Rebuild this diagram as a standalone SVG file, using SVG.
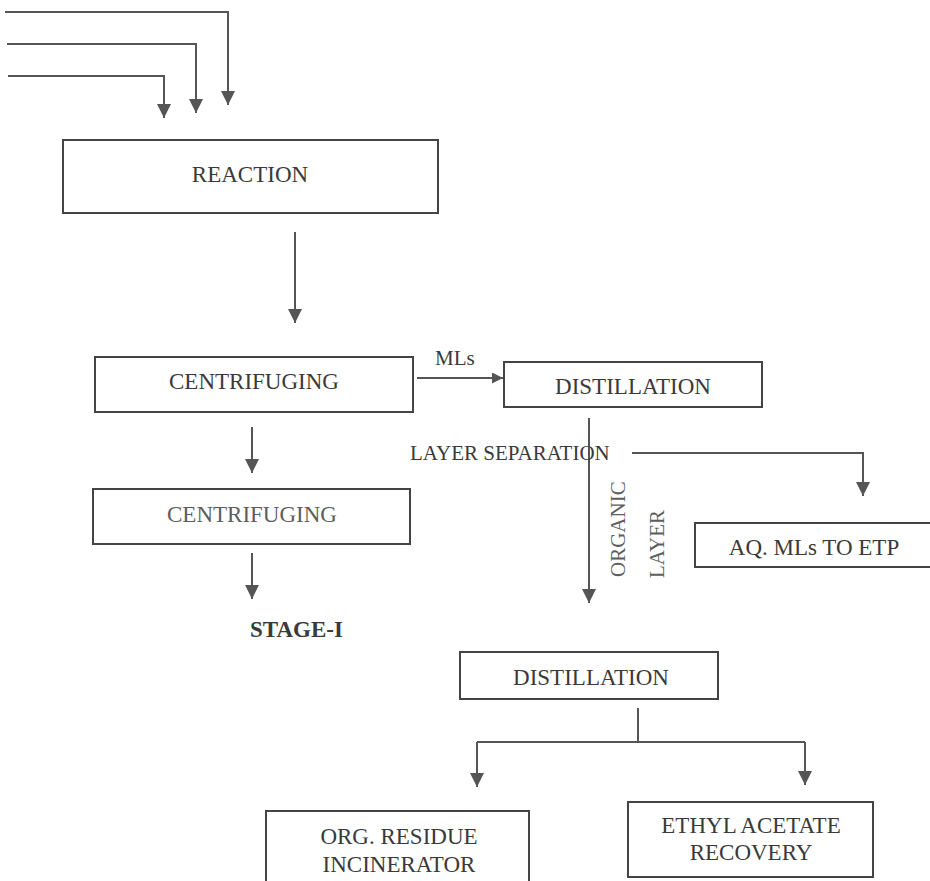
<svg xmlns="http://www.w3.org/2000/svg" width="930" height="881" viewBox="0 0 930 881" font-family="Liberation Serif, DejaVu Serif, serif">
  <style>
    .box rect { fill: #ffffff; stroke: #444444; stroke-width: 2; }
    .lbl { font-family: 'Liberation Serif', 'DejaVu Serif', serif; font-size: 23px; fill: #3a3a3a; }
    .mid { text-anchor: middle; }
    .small { font-size: 21px; }
    .faint { fill: #5e5e5e; }
    .bold { font-weight: bold; }
    .wire { fill: none; stroke: #555555; stroke-width: 2; }
  </style>
  <defs>
    <marker id="head" viewBox="0 0 10 10" refX="10" refY="5" markerUnits="userSpaceOnUse" markerWidth="15" markerHeight="14" orient="auto">
      <path d="M0,0 L10,5 L0,10 z" fill="#555555"/>
    </marker>
    <marker id="headSmall" viewBox="0 0 10 10" refX="10" refY="5" markerUnits="userSpaceOnUse" markerWidth="12" markerHeight="11" orient="auto">
      <path d="M0,0 L10,5 L0,10 z" fill="#555555"/>
    </marker>
  </defs>
  <rect width="930" height="881" fill="#ffffff"/>

  <!-- flow lines -->
  <g id="connectors" class="wire">
    <path d="M5,12 H228 V105" marker-end="url(#head)"/>
    <path d="M7,44 H196 V113" marker-end="url(#head)"/>
    <path d="M8,76 H164 V118" marker-end="url(#head)"/>
    <path d="M295,232 V323" marker-end="url(#head)"/>
    <path d="M417,378 H503" marker-end="url(#headSmall)"/>
    <path d="M252,427 V473" marker-end="url(#head)"/>
    <path d="M252,553 V599" marker-end="url(#head)"/>
    <path d="M589,418 V603" marker-end="url(#head)"/>
    <path d="M632,453 H863 V496" marker-end="url(#head)"/>
    <path d="M638,708 V742"/>
    <path d="M477,742 H805"/>
    <path d="M477,742 V787" marker-end="url(#head)"/>
    <path d="M805,742 V785" marker-end="url(#head)"/>
  </g>

  <!-- flow labels -->
  <g id="labels" class="lbl small">
    <text x="435" y="365">MLs</text>
    <text x="410" y="460">LAYER SEPARATION</text>
    <text transform="translate(625,577) rotate(-90)" class="faint">ORGANIC</text>
    <text transform="translate(664,578) rotate(-90)" class="faint">LAYER</text>
  </g>

  <g id="reaction" class="box">
    <rect x="63" y="140" width="375" height="73"/>
    <text class="lbl mid" x="250" y="182">REACTION</text>
  </g>

  <g id="centrifuging1" class="box">
    <rect x="95" y="357" width="318" height="55"/>
    <text class="lbl mid" x="254" y="389">CENTRIFUGING</text>
  </g>

  <g id="distillation1" class="box">
    <rect x="504" y="362" width="258" height="45"/>
    <text class="lbl mid" x="633" y="394">DISTILLATION</text>
  </g>

  <g id="centrifuging2" class="box">
    <rect x="93" y="489" width="317" height="55"/>
    <text class="lbl mid faint" x="252" y="522">CENTRIFUGING</text>
  </g>

  <g id="stage1">
    <text class="lbl bold" x="250" y="637">STAGE-I</text>
  </g>

  <g id="aqMls" class="box">
    <rect x="695" y="523" width="245" height="44"/>
    <text class="lbl mid" x="814" y="555">AQ. MLs TO ETP</text>
  </g>

  <g id="distillation2" class="box">
    <rect x="460" y="652" width="258" height="47"/>
    <text class="lbl mid" x="591" y="685">DISTILLATION</text>
  </g>

  <g id="orgResidue" class="box">
    <rect x="266" y="811" width="263" height="90"/>
    <text class="lbl mid" x="399" y="844">ORG. RESIDUE</text>
    <text class="lbl mid" x="399" y="872">INCINERATOR</text>
  </g>

  <g id="ethylAcetate" class="box">
    <rect x="628" y="802" width="245" height="75"/>
    <text class="lbl mid" x="751" y="833">ETHYL ACETATE</text>
    <text class="lbl mid" x="751" y="860">RECOVERY</text>
  </g>
</svg>
